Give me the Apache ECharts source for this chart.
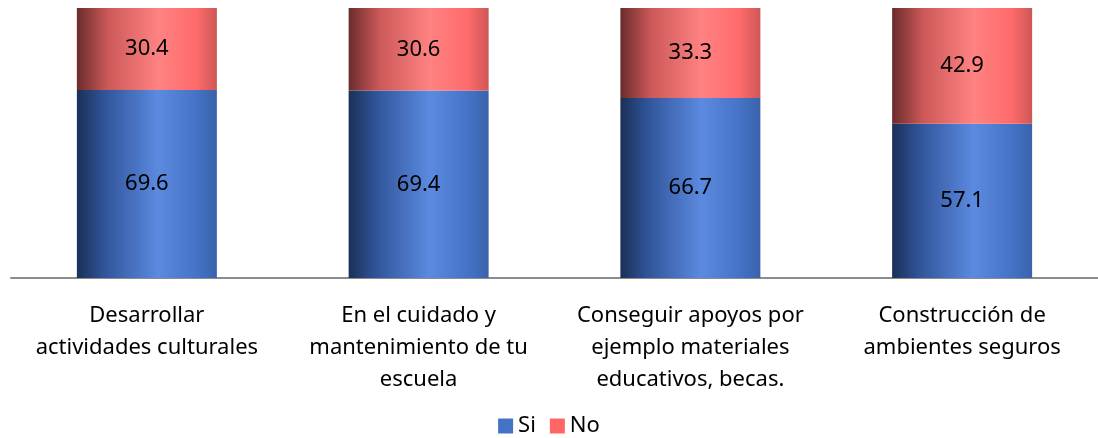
<!DOCTYPE html>
<html>
<head>
<meta charset="utf-8">
<script src="https://cdn.jsdelivr.net/npm/echarts@6/dist/echarts.min.js"></script>
<style>
  html, body { margin: 0; padding: 0; background: #fff; }
  #chart { width: 1098px; height: 438px; }
</style>
</head>
<body>
<div id="chart"></div>
<script>
// categories and values
var categories = [
	'Desarrollar\nactividades culturales',
	'En el cuidado y\nmantenimiento de tu\nescuela',
	'Conseguir apoyos por\nejemplo materiales\neducativos, becas.',
	'Construcción de\nambientes seguros'
];
var siValues = [69.6, 69.4, 66.7, 57.1];
var noValues = [30.4, 30.6, 33.3, 42.9];

var myChart = echarts.init(document.getElementById('chart'));

// cylinder-like shading across each bar
function shade(stops) {
	return new echarts.graphic.LinearGradient(0, 0, 1, 0, stops.map(function (c) {
		return { offset: c[0], color: c[1] };
	}));
}
var blueFill = shade([[0, '#1b2f58'], [0.2, '#31559a'], [0.58, '#5b8ae0'], [0.85, '#4673c6'], [1, '#3a62ab']]);
var redFill = shade([[0, '#6a2c2c'], [0.22, '#cc5858'], [0.58, '#ff8282'], [0.85, '#ff6b6b'], [1, '#cf5757']]);

var labelStyle = {
	show: true,
	position: 'inside',
	color: '#000',
	fontFamily: 'Noto Sans',
	fontSize: 22
};

var option = {
	animation: false,
	grid: { left: 11, right: -9, top: 8, bottom: 160 },
	legend: {
		bottom: -4,
		left: 'center',
		icon: 'rect',
		itemWidth: 15,
		itemHeight: 15,
		itemGap: 14,
		textStyle: { fontFamily: 'Noto Sans', fontSize: 22, color: '#000' },
		data: [
			{ name: 'Si', itemStyle: { color: '#4472c4' } },
			{ name: 'No', itemStyle: { color: '#ff6666' } }
		]
	},
	xAxis: {
		type: 'category',
		data: categories,
		axisLine: { lineStyle: { color: '#8c8c8c', width: 2 } },
		axisTick: { show: false },
		axisLabel: {
			interval: 0,
			margin: 22,
			color: '#000',
			fontFamily: 'Noto Sans',
			fontSize: 22,
			lineHeight: 32
		}
	},
	yAxis: {
		type: 'value',
		min: 0,
		max: 100,
		show: false
	},
	series: [
		{
			name: 'Si',
			type: 'bar',
			stack: 'total',
			barWidth: 140,
			data: siValues,
			itemStyle: { color: blueFill },
			label: labelStyle
		},
		{
			name: 'No',
			type: 'bar',
			stack: 'total',
			barWidth: 140,
			data: noValues,
			itemStyle: { color: redFill },
			label: labelStyle
		}
	]
};

myChart.setOption(option);
</script>
</body>
</html>
